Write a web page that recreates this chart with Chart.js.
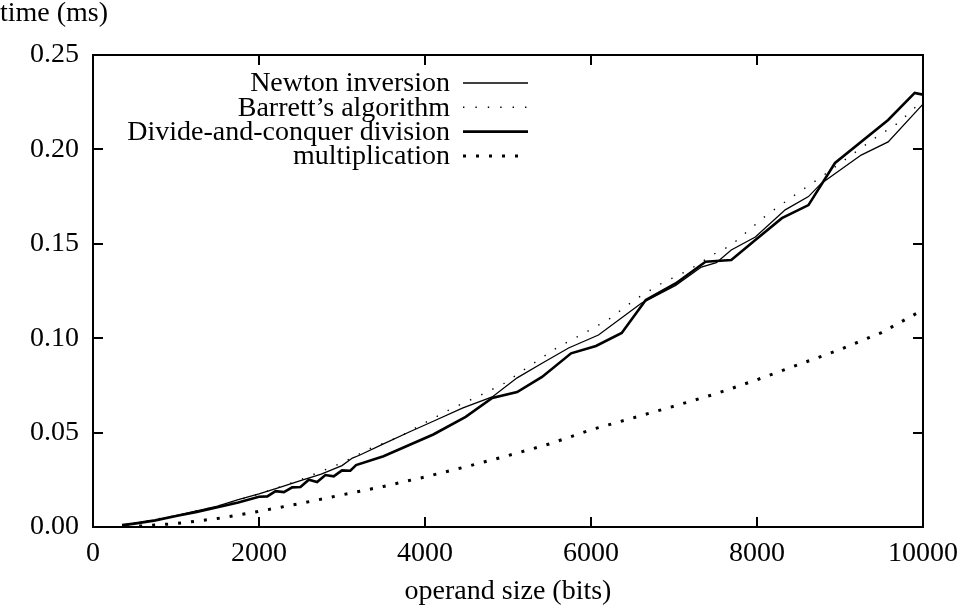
<!DOCTYPE html>
<html>
<head>
<meta charset="utf-8">
<script src="https://cdn.jsdelivr.net/npm/chart.js@4/dist/chart.umd.min.js"></script>
<style>
  html, body { margin: 0; padding: 0; background: #fff; }
  #wrap { width: 960px; height: 608px; }
</style>
</head>
<body>
<div id="wrap"><canvas id="timingChart"></canvas></div>
<script>
// operand size (bits) / time (ms)
const newtonX = [350, 500, 750, 1000, 1250, 1500, 1750, 2000, 2250, 2500, 2750, 3000, 3125, 3210, 3500, 3810, 4100, 4450, 4810, 5110, 5400, 5730, 6090, 6610, 7020, 7330, 7510, 7690, 7980, 8340, 8620, 8774, 9255, 9580, 10000];
const newtonY = [0.001, 0.002, 0.0035, 0.006, 0.0085, 0.011, 0.0145, 0.0175, 0.021, 0.0245, 0.028, 0.0325, 0.0365, 0.038, 0.044, 0.0503, 0.056, 0.063, 0.0689, 0.079, 0.0865, 0.0948, 0.1017, 0.1186, 0.128, 0.1377, 0.140, 0.1467, 0.1536, 0.168, 0.175, 0.182, 0.197, 0.204, 0.224];

const barrettX = [350, 1000, 1500, 2000, 2500, 3000, 3350, 3690, 3970, 4310, 4630, 4950, 5250, 5590, 5890, 6215, 6540, 6850, 7175, 7500, 7680, 8110, 8460, 8774, 9420, 9700, 10000];
const barrettY = [0.001, 0.006, 0.011, 0.0175, 0.025, 0.034, 0.0418, 0.0477, 0.0545, 0.0625, 0.069, 0.076, 0.085, 0.095, 0.102, 0.110, 0.1208, 0.129, 0.136, 0.145, 0.149, 0.165, 0.176, 0.1854, 0.206, 0.214, 0.226];

const dcX = [350, 500, 750, 1000, 1250, 1500, 1750, 2000, 2100, 2200, 2300, 2400, 2500, 2600, 2700, 2800, 2900, 3000, 3100, 3170, 3500, 3810, 4100, 4490, 4810, 5110, 5410, 5760, 6060, 6370, 6660, 7020, 7380, 7690, 7980, 8300, 8620, 8940, 9580, 9900, 10000];
const dcY = [0.001, 0.0018, 0.0035, 0.0058, 0.008, 0.0105, 0.013, 0.016, 0.0162, 0.019, 0.0185, 0.021, 0.0212, 0.025, 0.0238, 0.0275, 0.0268, 0.030, 0.0298, 0.0328, 0.0375, 0.0434, 0.049, 0.0583, 0.0683, 0.0715, 0.0795, 0.092, 0.0959, 0.1028, 0.1202, 0.129, 0.1405, 0.1414, 0.152, 0.1636, 0.1705, 0.1928, 0.2156, 0.2299, 0.229];

const multX = [400, 1000, 1500, 2000, 2500, 3000, 3500, 4000, 4500, 5000, 5500, 6000, 6500, 7000, 7500, 8000, 8500, 9000, 9500, 10000];
const multY = [0.0, 0.0018, 0.0045, 0.0083, 0.0125, 0.017, 0.0215, 0.0265, 0.032, 0.0378, 0.044, 0.0515, 0.0577, 0.064, 0.0705, 0.078, 0.086, 0.094, 0.103, 0.115];

const xTicks = [0, 2000, 4000, 6000, 8000, 10000];
const yTicks = [0, 0.05, 0.10, 0.15, 0.20, 0.25];

const FONT = "'Liberation Serif', 'DejaVu Serif', serif";
const FS = 28;

const pts = (xs, ys) => xs.map((x, i) => ({ x, y: ys[i] }));

// gnuplot-style inward ticks on all four sides plus the frame
const frameTicks = {
    id: 'frameTicks',
    afterDatasetsDraw(chart) {
        const { ctx, chartArea: a, scales } = chart;
        const len = 10;
        ctx.save();
        ctx.strokeStyle = '#000';
        ctx.lineWidth = 2;
        ctx.lineCap = 'butt';
        ctx.strokeRect(a.left, a.top, a.right - a.left, a.bottom - a.top);
        ctx.beginPath();
        xTicks.forEach(v => {
            const px = Math.round(scales.x.getPixelForValue(v));
            ctx.moveTo(px, a.bottom); ctx.lineTo(px, a.bottom - len);
            ctx.moveTo(px, a.top); ctx.lineTo(px, a.top + len);
        });
        yTicks.forEach(v => {
            const py = Math.round(scales.y.getPixelForValue(v));
            ctx.moveTo(a.left, py); ctx.lineTo(a.left + len, py);
            ctx.moveTo(a.right, py); ctx.lineTo(a.right - len, py);
        });
        ctx.stroke();
        ctx.restore();
    }
};

// key in the top-left corner: right-aligned text, line sample after it
const keyBox = {
    id: 'keyBox',
    afterDraw(chart) {
        const { ctx } = chart;
        const textRight = 450, lineL = 463, lineR = 528;
        ctx.save();
        ctx.font = FS + 'px ' + FONT;
        ctx.fillStyle = '#000';
        ctx.textAlign = 'right';
        ctx.textBaseline = 'middle';
        chart.data.datasets.forEach((ds, i) => {
            const y = 83 + i * 24.3;
            ctx.fillText(ds.label, textRight, y + 1);
            ctx.strokeStyle = '#000';
            ctx.lineWidth = ds.borderWidth;
            ctx.setLineDash(ds.borderDash || []);
            ctx.beginPath();
            ctx.moveTo(lineL, y);
            ctx.lineTo(lineR, y);
            ctx.stroke();
        });
        ctx.restore();
    }
};

const ctx = document.getElementById('timingChart').getContext('2d');
new Chart(ctx, {
    type: 'line',
    data: {
        datasets: [
            {
                label: 'Newton inversion',
                data: pts(newtonX, newtonY),
                borderColor: '#000',
                borderWidth: 1.3
            },
            {
                label: "Barrett\u2019s algorithm",
                data: pts(barrettX, barrettY),
                borderColor: '#000',
                borderWidth: 1.4,
                borderDash: [1.4, 11]
            },
            {
                label: 'Divide-and-conquer division',
                data: pts(dcX, dcY),
                borderColor: '#000',
                borderWidth: 2.6
            },
            {
                label: 'multiplication',
                data: pts(multX, multY),
                borderColor: '#000',
                borderWidth: 3,
                borderDash: [3, 10]
            }
        ]
    },
    options: {
        responsive: true,
        maintainAspectRatio: false,
        animation: false,
        elements: {
            point: { radius: 0 },
            line: { tension: 0, fill: false, borderCapStyle: 'butt' }
        },
        layout: { padding: { left: 0, right: 35, top: 0, bottom: 0 } },
        plugins: {
            legend: { display: false },
            tooltip: { enabled: false },
            title: {
                display: true,
                text: 'time (ms)',
                align: 'start',
                color: '#000',
                font: { family: FONT, size: FS, weight: 'normal', lineHeight: 1.0 },
                padding: { top: 0, bottom: 27 }
            }
        },
        scales: {
            x: {
                type: 'linear',
                min: 0,
                max: 10000,
                afterBuildTicks: s => { s.ticks = xTicks.map(v => ({ value: v })); },
                afterFit: s => { s.height = 81; },
                grid: { display: false },
                border: { display: false },
                ticks: {
                    color: '#000',
                    padding: 2,
                    maxRotation: 0,
                    font: { family: FONT, size: FS },
                    callback: v => String(v)
                },
                title: {
                    display: true,
                    text: 'operand size (bits)',
                    color: '#000',
                    font: { family: FONT, size: FS },
                    padding: { top: 0, bottom: 0 }
                }
            },
            y: {
                type: 'linear',
                min: 0,
                max: 0.25,
                afterBuildTicks: s => { s.ticks = yTicks.map(v => ({ value: v })); },
                afterFit: s => { s.width = 93; },
                grid: { display: false },
                border: { display: false },
                ticks: {
                    color: '#000',
                    padding: 6,
                    font: { family: FONT, size: FS },
                    callback: v => v.toFixed(2)
                }
            }
        }
    },
    plugins: [frameTicks, keyBox]
});
</script>
</body>
</html>
